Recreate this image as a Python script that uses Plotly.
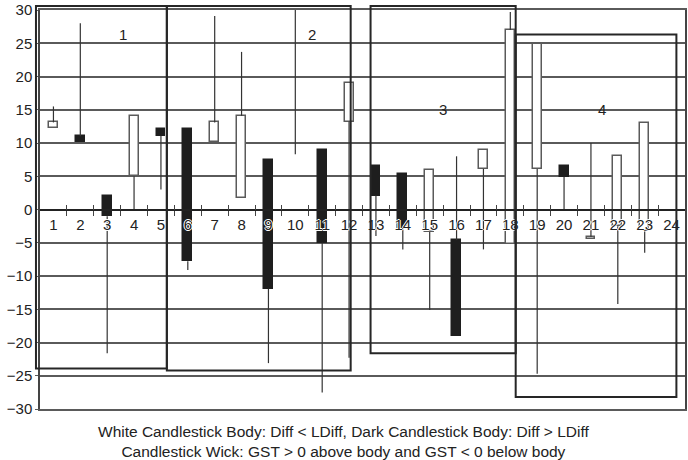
import plotly.graph_objects as go

# candle data
periods = list(range(1, 25))
body_top = [13.1, 11.0, 2.0, 14.1, 12.1, 12.1, 13.1, 14.1, 7.5, 8.3, 9.0, 19.0,
            6.5, 5.4, 5.9, -4.6, 9.0, 27.0, 24.9, 6.5, -4.1, 8.0, 13.0, None]
body_bot = [12.2, 10.1, -1.0, 5.0, 11.1, -7.8, 10.2, 1.7, -11.9, 8.3, -5.0, 13.2,
            2.1, -3.0, -3.4, -19.0, 6.1, -5.2, 6.1, 4.9, -4.4, -2.5, -3.3, None]
wick_high = [15.5, 28.0, 2.0, 14.1, 12.1, 12.1, 29.1, 23.7, 7.5, 30.0, 9.0, 19.0,
             6.5, 5.4, 5.9, 8.0, 9.0, 29.7, 24.9, 6.5, 10.0, 8.0, 13.0, None]
wick_low = [12.2, 10.1, -21.6, 0.0, 3.0, -9.1, 10.2, 1.7, -23.1, 8.3, -27.5, -22.3,
            -4.0, -6.0, -15.1, -19.0, -6.0, -5.2, -24.7, 0.0, -4.4, -14.2, -6.5, None]
dark = [0, 1, 1, 0, 1, 1, 0, 0, 1, 1, 1, 0, 1, 1, 0, 1, 0, 0, 0, 1, 0, 0, 0, 0]

# the four boxed groups (x in periods, y in chart units)
group_names = ["1", "2", "3", "4"]
group_x0 = [0.35, 5.22, 12.8, 18.2]
group_x1 = [5.22, 12.06, 18.2, 24.18]
group_y0 = [-23.9, -24.2, -21.6, -28.2]
group_y1 = [30.6, 30.6, 30.6, 26.3]
label_x = [3.58, 10.63, 15.5, 21.4]
label_y = [26.3, 26.3, 15.1, 15.1]

FONT = "Liberation Sans, Arial, sans-serif"
X_MIN, X_MAX = 0.5, 24.5
Y_MIN, Y_MAX = -30, 30

fig = go.Figure()

# wicks: above and below the body
wx, wy = [], []
for p, bt, bb, hi, lo in zip(periods, body_top, body_bot, wick_high, wick_low):
    if bt is None:
        continue
    if hi > bt:
        wx += [p, p, None]
        wy += [bt, hi, None]
    if lo < bb:
        wx += [p, p, None]
        wy += [bb, lo, None]
fig.add_trace(go.Scatter(x=wx, y=wy, mode="lines",
                         line=dict(color="#333333", width=1.2),
                         hoverinfo="skip", showlegend=False))

heights = [None if bt is None else bt - bb for bt, bb in zip(body_top, body_bot)]
fig.add_trace(go.Bar(
    x=periods, y=heights, base=body_bot, width=0.33,
    marker=dict(
        color=["#1e1e1e" if d else "#ffffff" for d in dark],
        line=dict(
            color=["#1e1e1e" if d else "#5a5a5a" for d in dark],
            width=[1.5 if h else 0 for h in heights],
        ),
    ),
    showlegend=False,
))


def px_x(v):
    return (v - X_MIN) / (X_MAX - X_MIN)


def px_y(v):
    return (v - Y_MIN) / (Y_MAX - Y_MIN)


for x0, x1, y0, y1 in zip(group_x0, group_x1, group_y0, group_y1):
    fig.add_shape(type="rect", xref="paper", yref="paper",
                  x0=px_x(x0), x1=px_x(x1), y0=px_y(y0), y1=px_y(y1),
                  line=dict(color="#262626", width=2))

for name, lx, ly in zip(group_names, label_x, label_y):
    fig.add_annotation(x=lx, y=ly, text=name, showarrow=False,
                       font=dict(family=FONT, size=15, color="#222222"))

fig.add_annotation(
    xref="paper", yref="paper", x=0.47, y=0, yanchor="top", yshift=-12,
    showarrow=False, align="center",
    text="White Candlestick Body: Diff &lt; LDiff, Dark Candlestick Body: Diff &gt; LDiff"
         "<br>Candlestick Wick: GST &gt; 0 above body and GST &lt; 0 below body",
    font=dict(family=FONT, size=15.5, color="#222222"),
)

halves = [p + 0.5 for p in periods[:-1]]
halo = "1px 0 0 #fff, -1px 0 0 #fff, 0 1px 0 #fff, 0 -1px 0 #fff"

fig.update_layout(
    width=688, height=460,
    margin=dict(l=40, r=1, t=7, b=51),
    plot_bgcolor="white", paper_bgcolor="white",
    font=dict(family=FONT, size=15, color="#222222"),
    bargap=0,
    xaxis=dict(
        range=[X_MIN, X_MAX], anchor="free", position=0.5,
        tickvals=periods, ticktext=[str(p) for p in periods],
        ticks="", showgrid=False, zeroline=False,
        showline=True, linecolor="#222222", linewidth=1.5,
        tickfont=dict(size=15, shadow=halo),
        ticklabelstandoff=2,
    ),
    xaxis2=dict(
        range=[X_MIN, X_MAX], overlaying="x", anchor="free", position=0.5,
        tickvals=halves, ticks="outside", ticklen=5, tickwidth=1,
        tickcolor="#444444", showticklabels=False, showgrid=False, zeroline=False,
    ),
    xaxis3=dict(
        range=[X_MIN, X_MAX], overlaying="x", anchor="free", position=0.5,
        tickvals=halves, ticks="inside", ticklen=5, tickwidth=1,
        tickcolor="#444444", showticklabels=False, showgrid=False, zeroline=False,
    ),
    # frame lines along the top and bottom of the plot area
    xaxis4=dict(
        range=[X_MIN, X_MAX], overlaying="x", anchor="y",
        showline=True, mirror=True, linecolor="#5a5a5a", linewidth=1.5,
        ticks="", showticklabels=False, showgrid=False, zeroline=False,
    ),
    yaxis=dict(
        range=[Y_MIN, Y_MAX], dtick=5, tick0=0,
        showgrid=True, gridcolor="#5a5a5a", gridwidth=1.5,
        zeroline=False, showline=True, mirror=True,
        linecolor="#444444", linewidth=1.5,
        ticks="outside", ticklen=3, tickcolor="#5a5a5a",
        tickfont=dict(size=15), ticklabeloverflow="allow",
    ),
)

# empty traces so the overlay axes get drawn
for ax in ["x2", "x3", "x4"]:
    fig.add_trace(go.Scatter(x=[None], y=[None], xaxis=ax,
                             showlegend=False, hoverinfo="skip"))

fig.write_html("out.html", config={"displayModeBar": False},
               post_script="document.body.style.margin='0';")
